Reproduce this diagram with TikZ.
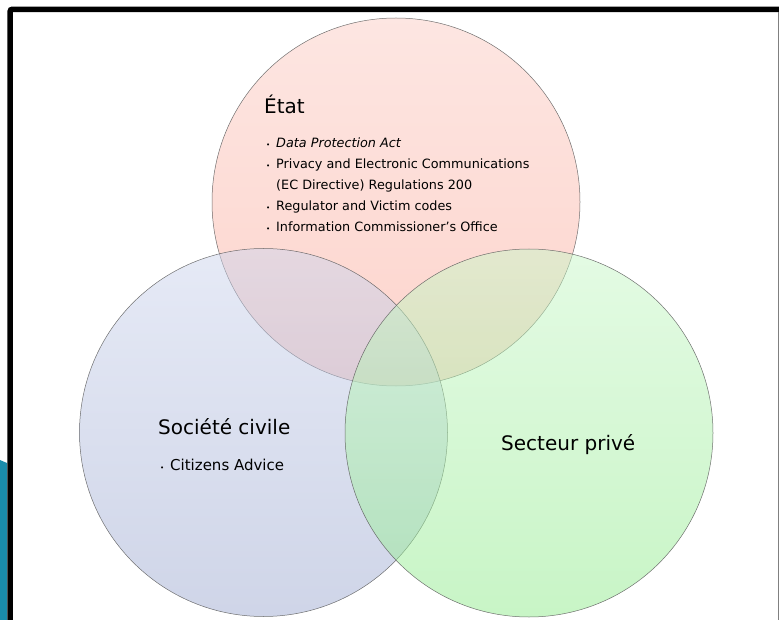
\documentclass[tikz,border=0pt]{standalone}
\usepackage{fontspec}
\setmainfont{DejaVu Sans}
\usetikzlibrary{positioning}
\definecolor{etattop}{RGB}{251,205,197}
\definecolor{etatbot}{RGB}{251,169,153}
\definecolor{civtop}{RGB}{205,213,237}
\definecolor{civbot}{RGB}{159,171,209}
\definecolor{privtop}{RGB}{201,247,201}
\definecolor{privbot}{RGB}{145,235,141}
\definecolor{sidebar}{RGB}{26,140,171}
\newcommand{\bul}{\makebox[11pt][l]{\hspace{1pt}\scriptsize•}}

\begin{document}
\begin{tikzpicture}[x=1pt,y=-1pt,
  venn/.style={circle, draw=gray!70!black, line width=0.5pt, minimum size=368pt, inner sep=0pt, fill opacity=0.5, draw opacity=0.85},
  title/.style={anchor=base west, inner sep=0pt, font=\fontsize{20}{24}\selectfont},
  items/.style={anchor=north west, inner sep=0pt, align=left, font=\fontsize{12.8}{20.8}\selectfont}
  ]
  \useasboundingbox (0,0) rectangle (779,620);

  \fill[sidebar] (0,460) -- (7,463) -- (7,620) -- (0,620) -- cycle;
  \draw[line width=5.5pt, rounded corners=2pt] (10.2,622) -- (10.2,9.3) -- (781,9.3);
  \draw[gray, line width=1pt] (778,12) -- (778,620);

  \node[venn, top color=etattop, bottom color=etatbot] (etat) at (396,202) {};
  \node[venn, top color=civtop, bottom color=civbot] (civile) at (263.5,432.5) {};
  \node[venn, top color=privtop, bottom color=privbot] (prive) at (529,433) {};

  \node[title] (etattitle) at (264,114) {État};
  \node[items] (etatlist) at (265,138) {\bul\textit{Data Protection Act}\\
    \bul Privacy and Electronic Communications\\
    \hspace*{11pt}(EC Directive) Regulations 200\\
    \bul Regulator and Victim codes\\
    \bul Information Commissioner’s Office};

  \node[title] (civiletitle) at (158,434) {Société civile};
  \node[items, anchor=base west, font=\fontsize{15}{18}\selectfont] (civilelist) at (159,470) {\makebox[11pt][l]{\hspace{1pt}\scriptsize•}Citizens Advice};

  \node[title] (privetitle) at (501,450) {Secteur privé};

\end{tikzpicture}
\end{document}
